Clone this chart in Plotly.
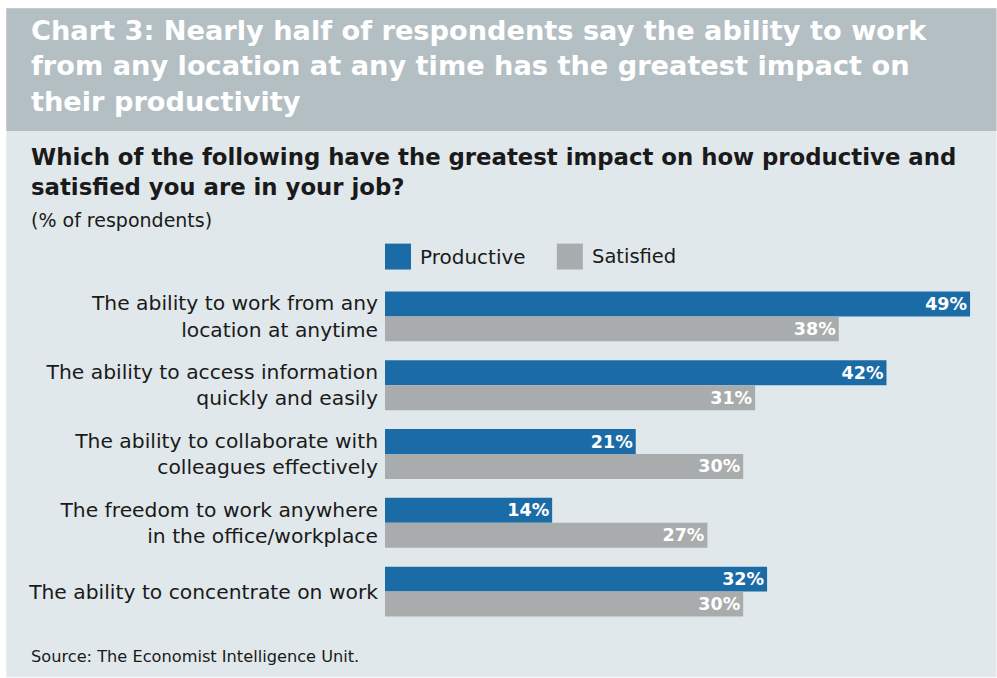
import plotly.graph_objects as go

categories = [
    "The ability to work from any<br>location at anytime",
    "The ability to access information<br>quickly and easily",
    "The ability to collaborate with<br>colleagues effectively",
    "The freedom to work anywhere<br>in the office/workplace",
    "The ability to concentrate on work",
]
productive = [49, 42, 21, 14, 32]
satisfied = [38, 31, 30, 27, 30]
series_names = ["Productive", "Satisfied"]

BLUE = "#1b6ba7"
GREY = "#a9acad"
BG = "#e0e8eb"
BANNER = "#b4bfc4"
FONT = "DejaVu Sans"

W, H = 997, 678
ML, MR, MT, MB = 385, 14.5, 281.5, 51.5
PW, PH = W - ML - MR, H - MT - MB


def fx(px):
    return (px - ML) / PW


def fy(py):
    return (H - MB - py) / PH


fig = go.Figure()
for name, vals, col in [(series_names[0], productive, BLUE), (series_names[1], satisfied, GREY)]:
    fig.add_trace(go.Bar(
        y=categories, x=vals, orientation="h", name=name,
        marker=dict(color=col, line=dict(width=0)),
        text=[f"<b>{v}%</b>" for v in vals],
        textposition="inside", insidetextanchor="end", constraintext="none",
        textfont=dict(color="white", size=17.5, family=FONT),
        showlegend=False,
    ))

shapes = [
    dict(type="rect", xref="paper", yref="paper", x0=fx(6), x1=fx(W), y0=fy(H), y1=fy(7),
         fillcolor=BG, line=dict(width=0), layer="below"),
    dict(type="rect", xref="paper", yref="paper", x0=fx(6), x1=fx(W), y0=fy(130), y1=fy(7),
         fillcolor=BANNER, line=dict(width=0), layer="below"),
    dict(type="rect", xref="paper", yref="paper", x0=fx(385), x1=fx(411), y0=fy(269), y1=fy(243),
         fillcolor=BLUE, line=dict(width=0)),
    dict(type="rect", xref="paper", yref="paper", x0=fx(557), x1=fx(583), y0=fy(269), y1=fy(243),
         fillcolor=GREY, line=dict(width=0)),
]

annotations = [
    dict(text="<b>Chart 3: Nearly half of respondents say the ability to work<br>"
              "from any location at any time has the greatest impact on<br>"
              "their productivity</b>",
         x=fx(29), y=fy(12), xanchor="left", yanchor="top", align="left",
         font=dict(size=27.2, color="white", family=FONT)),
    dict(text="<b>Which of the following have the greatest impact on how productive and<br>"
              "satisfied you are in your job?</b>",
         x=fx(29), y=fy(141), xanchor="left", yanchor="top", align="left",
         font=dict(size=22.8, color="#1a1a1a", family=FONT)),
    dict(text="(% of respondents)", x=fx(29), y=fy(206), xanchor="left", yanchor="top", align="left",
         font=dict(size=19, color="#1a1a1a", family=FONT)),
    dict(text=series_names[0], x=fx(418), y=fy(256), xanchor="left", yanchor="middle",
         font=dict(size=20, color="#1a1a1a", family=FONT)),
    dict(text=series_names[1], x=fx(590), y=fy(256), xanchor="left", yanchor="middle",
         font=dict(size=19.5, color="#1a1a1a", family=FONT)),
    dict(text="Source: The Economist Intelligence Unit.", x=fx(29), y=fy(657), xanchor="left",
         yanchor="middle", font=dict(size=16.2, color="#1a1a1a", family=FONT)),
]
for a in annotations:
    a.update(xref="paper", yref="paper", showarrow=False)

fig.update_layout(
    width=W, height=H,
    margin=dict(l=ML, r=MR, t=MT, b=MB, autoexpand=False),
    paper_bgcolor="white", plot_bgcolor="rgba(0,0,0,0)",
    barmode="group", bargap=19 / 69, bargroupgap=0,
    shapes=shapes, annotations=annotations,
    font=dict(family=FONT, color="#1a1a1a"),
    xaxis=dict(range=[0, 50], visible=False, fixedrange=True),
    yaxis=dict(autorange="reversed", showgrid=False, zeroline=False, showline=False,
               ticks="", ticklabelstandoff=6, tickfont=dict(size=20.3, color="#1a1a1a", family=FONT)),
)

fig.write_html("out.html")
